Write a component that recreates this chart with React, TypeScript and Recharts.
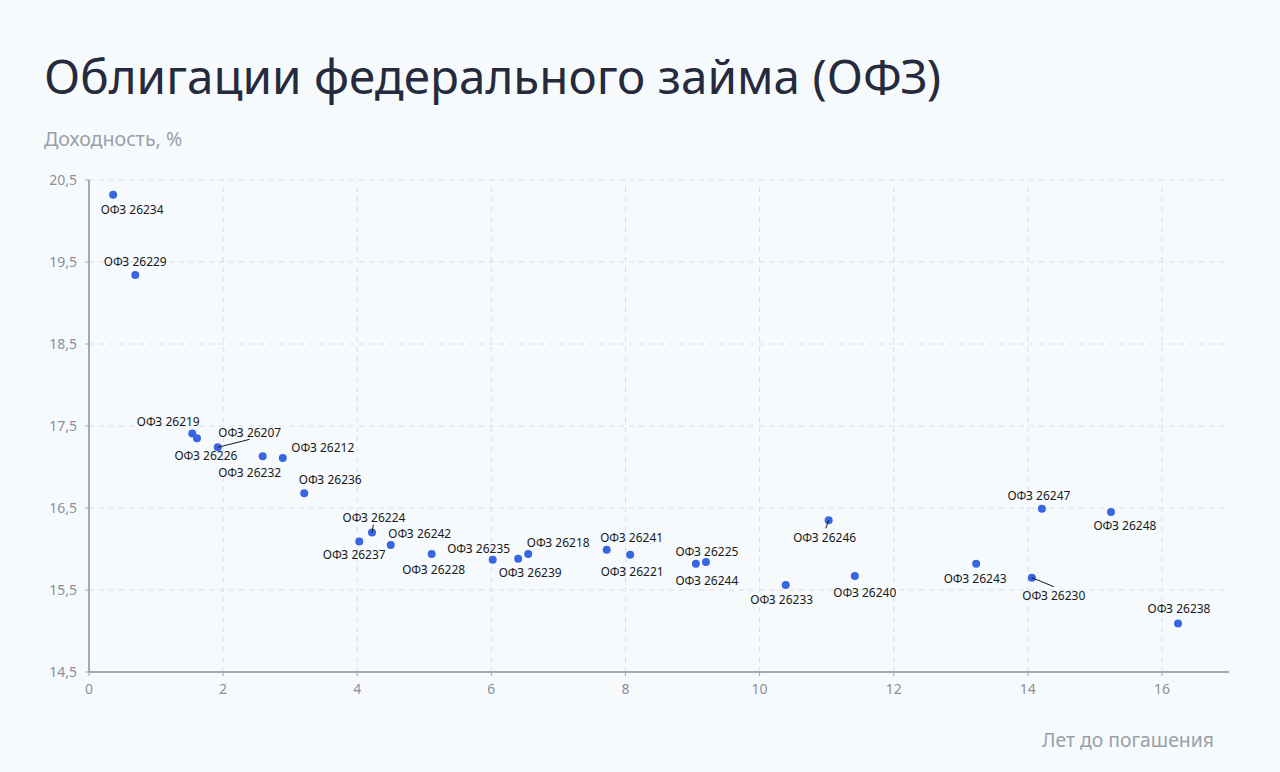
import React from 'react'
import {
  ScatterChart,
  Scatter,
  XAxis,
  YAxis,
  CartesianGrid,
  ReferenceLine,
  LabelList,
} from 'recharts'

const bondNames = [
  'ОФЗ 26234', 'ОФЗ 26229', 'ОФЗ 26219', 'ОФЗ 26226', 'ОФЗ 26207', 'ОФЗ 26232',
  'ОФЗ 26212', 'ОФЗ 26236', 'ОФЗ 26224', 'ОФЗ 26237', 'ОФЗ 26242', 'ОФЗ 26228',
  'ОФЗ 26235', 'ОФЗ 26239', 'ОФЗ 26218', 'ОФЗ 26241', 'ОФЗ 26221', 'ОФЗ 26244',
  'ОФЗ 26225', 'ОФЗ 26233', 'ОФЗ 26246', 'ОФЗ 26240', 'ОФЗ 26243', 'ОФЗ 26230',
  'ОФЗ 26247', 'ОФЗ 26248', 'ОФЗ 26238',
]
const yearsToMaturity = [
  0.36, 0.69, 1.54, 1.61, 1.92, 2.59, 2.89, 3.21, 4.22, 4.03, 4.5, 5.11, 6.02, 6.4,
  6.55, 7.72, 8.07, 9.05, 9.2, 10.39, 11.03, 11.42, 13.23, 14.06, 14.21, 15.24, 16.24,
]
const yieldPct = [
  20.32, 19.34, 17.41, 17.35, 17.24, 17.13, 17.11, 16.68, 16.2, 16.09, 16.05, 15.94,
  15.87, 15.88, 15.94, 15.99, 15.93, 15.82, 15.84, 15.56, 16.35, 15.67, 15.82, 15.65,
  16.49, 16.45, 15.09,
]
const xTicks = [0, 2, 4, 6, 8, 10, 12, 14, 16]
const yTicks = [14.5, 15.5, 16.5, 17.5, 18.5, 19.5, 20.5]

const data = bondNames.map((name, i) => ({ name, x: yearsToMaturity[i], y: yieldPct[i] }))

// label placement relative to the dot: [dx, dy, leader line]
const labelPos: Record<string, [number, number, boolean?]> = {
  'ОФЗ 26234': [19, 15],
  'ОФЗ 26229': [0, -14],
  'ОФЗ 26219': [-24, -12],
  'ОФЗ 26226': [9, 17],
  'ОФЗ 26207': [32, -15, true],
  'ОФЗ 26232': [-13, 16],
  'ОФЗ 26212': [40, -10],
  'ОФЗ 26236': [26, -14],
  'ОФЗ 26224': [2, -15, true],
  'ОФЗ 26237': [-5, 13],
  'ОФЗ 26242': [29, -11],
  'ОФЗ 26228': [2, 16],
  'ОФЗ 26235': [-14, -11],
  'ОФЗ 26239': [12, 14],
  'ОФЗ 26218': [30, -11],
  'ОФЗ 26241': [25, -12],
  'ОФЗ 26221': [2, 17],
  'ОФЗ 26244': [11, 17],
  'ОФЗ 26225': [1, -11],
  'ОФЗ 26233': [-4, 14],
  'ОФЗ 26246': [-4, 17, true],
  'ОФЗ 26240': [10, 16],
  'ОФЗ 26243': [-1, 15],
  'ОФЗ 26230': [22, 18, true],
  'ОФЗ 26247': [-3, -13],
  'ОФЗ 26248': [14, 13],
  'ОФЗ 26238': [1, -15],
}

const FONT = '"Noto Sans", Lato, sans-serif'

const BondLabel = (props: any) => {
  const { x, y, width, height, value } = props
  const cx = x + width / 2
  const cy = y + height / 2
  const [dx, dy, leader] = labelPos[value] || [0, -12]
  const tx = cx + dx
  const ty = cy + dy
  const lineEnd = dy < 0 ? ty + 7 : ty - 9
  return (
    <g>
      {leader && (
        <line x1={cx} y1={cy} x2={dx > 15 ? tx : cx + dx * 0.7} y2={lineEnd} stroke="#1a1a1a" strokeWidth={1} />
      )}
      <text x={tx} y={ty} textAnchor="middle" dominantBaseline="central" fontSize={12} fill="#1a1a1a" fontFamily={FONT}>
        {value}
      </text>
    </g>
  )
}

const fmt = (v: number) => String(v).replace('.', ',')

export default function App() {
  return (
    <div style={{ position: 'absolute', left: 0, top: 0, width: 1280, height: 772, background: '#f7fafd', fontFamily: FONT }}>
      <div style={{ position: 'absolute', left: 44, top: 43, fontSize: 47.6, color: '#252a3c', whiteSpace: 'nowrap' }}>
        Облигации федерального займа (ОФЗ)
      </div>
      <div style={{ position: 'absolute', left: 44, top: 125, fontSize: 19.6, color: '#9a9fa8' }}>Доходность, %</div>
      <div style={{ position: 'absolute', right: 66, top: 726, fontSize: 19.4, color: '#9a9fa8' }}>Лет до погашения</div>
      <ScatterChart width={1280} height={772} margin={{ top: 180, right: 51, bottom: 70, left: 29 }}>
        <CartesianGrid stroke="#d9dde3" strokeDasharray="5 5" vertical={false} />
        <XAxis
          type="number"
          dataKey="x"
          domain={[0, 17]}
          ticks={xTicks}
          tick={{ fill: '#8a8f99', fontSize: 14, fontFamily: FONT }}
          tickSize={4}
          height={30}
          axisLine={{ stroke: '#a6a9ae', strokeWidth: 2 }}
          tickLine={{ stroke: '#a6a9ae' }}
          tickMargin={8}
        />
        <YAxis
          type="number"
          dataKey="y"
          domain={[14.5, 20.5]}
          ticks={yTicks}
          tickFormatter={fmt}
          tick={{ fill: '#8a8f99', fontSize: 14, fontFamily: FONT }}
          tickSize={4}
          width={60}
          axisLine={{ stroke: '#a6a9ae', strokeWidth: 2 }}
          tickLine={{ stroke: '#a6a9ae' }}
          tickMargin={8}
        />
        {xTicks.slice(1).map((t) => (
          <ReferenceLine key={t} x={t} stroke="#d9dde3" strokeDasharray="5 5" />
        ))}
        <Scatter data={data} fill="#3766e3" isAnimationActive={false} shape={(p: any) => <circle cx={p.cx} cy={p.cy} r={4} fill="#3766e3" />}>
          <LabelList dataKey="name" content={BondLabel} />
        </Scatter>
      </ScatterChart>
    </div>
  )
}
